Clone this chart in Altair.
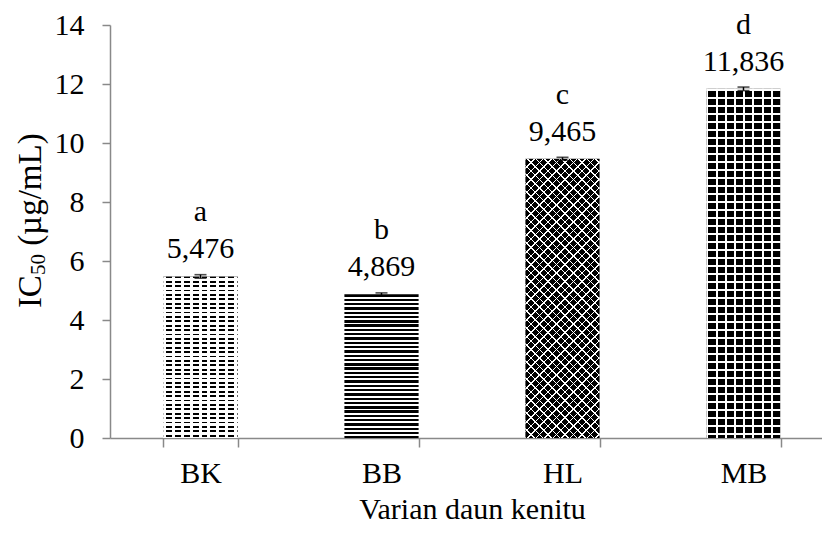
import math
import altair as alt
import pandas as pd

# IC50 of kenitu leaf varieties (mean ± SD) with Duncan letters
categories = ["BK", "BB", "HL", "MB"]
ic50_values = [5.476, 4.869, 9.465, 11.836]
ic50_sd = [0.06, 0.05, 0.05, 0.06]
sig_letters = ["a", "b", "c", "d"]
y_ticks = [0, 2, 4, 6, 8, 10, 12, 14]
x_title = "Varian daun kenitu"
y_title_parts = ["IC", "50", "(µg/mL)"]

FONT = "Liberation Serif"
FS = 30
TITLE_FS = 33
SUB_FS = 21
AXIS_GREY = "#898989"

PLOT_W, PLOT_H = 712, 413
RANGE_W = 724          # band range runs a little past the right edge
Y_MAX = 14
PAD_INNER, PAD_OUTER = 0.59, 0.295

step = RANGE_W / (len(categories) - PAD_INNER + 2 * PAD_OUTER)
BAR_W = step * (1 - PAD_INNER)
CLEAR = "rgba(255,255,255,0)"


def bar_height_px(v):
    return v / Y_MAX * PLOT_H


def band_stops(length, period, ink, ink_color, gap_color, tmax=1.0):
    """Hard-edged alternating gradient stops across `length` pixels."""
    stops = []
    pos = 0.0
    while pos < length:
        for lo, hi, col in ((pos, pos + ink, ink_color), (pos + ink, pos + period, gap_color)):
            lo_c, hi_c = max(lo, 0.0), min(hi, length)
            if hi_c > lo_c:
                stops.append({"offset": round(lo_c / length * tmax, 5), "color": col})
                stops.append({"offset": round(hi_c / length * tmax, 5), "color": col})
        pos += period
    return stops


def rows(h, period, ink, ink_color, gap_color=CLEAR):
    return {"gradient": "linear", "x1": 0, "y1": 0, "x2": 0, "y2": 1,
            "stops": band_stops(h, period, ink, ink_color, gap_color)}


def cols(w, period, ink, ink_color, gap_color=CLEAR):
    return {"gradient": "linear", "x1": 0, "y1": 0, "x2": 1, "y2": 0,
            "stops": band_stops(w, period, ink, ink_color, gap_color)}


def diagonal(w, h, spacing, ink, ink_color, gap_color=CLEAR, flip=False):
    r = h / w
    tmax = (w + h) * w / (w * w + h * h)
    g = {"gradient": "linear"}
    if flip:
        g.update(x1=0, y1=1, x2=1, y2=round(1 - r, 5))
    else:
        g.update(x1=0, y1=0, x2=1, y2=round(r, 5))
    g["stops"] = band_stops(w + h, spacing, ink * math.sqrt(2), ink_color, gap_color, tmax)
    return g


df = pd.DataFrame({
    "cat": categories,
    "value": ic50_values,
    "lo": [v - e for v, e in zip(ic50_values, ic50_sd)],
    "hi": [v + e for v, e in zip(ic50_values, ic50_sd)],
    "letter": sig_letters,
    "label": [f"{v:.3f}".replace(".", ",") for v in ic50_values],
})

x_enc = alt.X(
    "cat:N", sort=categories,
    scale=alt.Scale(domain=categories, range=[0, RANGE_W],
                    paddingInner=PAD_INNER, paddingOuter=PAD_OUTER),
    axis=alt.Axis(title=x_title, titleFont=FONT, titleFontSize=FS, titleFontWeight="normal",
                  titleColor="black", titlePadding=6,
                  labelFont=FONT, labelFontSize=FS, labelColor="black", labelAngle=0,
                  labelPadding=11, tickBand="extent", tickSize=9, tickColor=AXIS_GREY,
                  tickWidth=1.5, domainColor=AXIS_GREY, domainWidth=1.5, grid=False),
)
y_axis = alt.Axis(values=y_ticks, title=None, labelFont=FONT, labelFontSize=FS,
                  labelColor="black", labelPadding=18, tickSize=8, tickColor=AXIS_GREY,
                  tickWidth=1.5, domainColor=AXIS_GREY, domainWidth=1.5, grid=False)
y_scale = alt.Scale(domain=[0, Y_MAX], nice=False)


def y_enc(field):
    return alt.Y(f"{field}:Q", scale=y_scale, axis=y_axis)


base = alt.Chart(df)

# plain bar bodies
body_colors = {"BK": "white", "BB": "white", "HL": "black", "MB": "black"}
layers = [
    base.mark_bar().encode(
        x=x_enc, y=y_enc("value"),
        fill=alt.Fill("cat:N", scale=alt.Scale(domain=categories,
                                               range=[body_colors[c] for c in categories]),
                      legend=None),
    )
]

# texture overlays, built per bar from its own height
for cat, val in zip(categories, ic50_values):
    h = bar_height_px(val)
    if cat == "BK":
        fills = [rows(h, 4.4, 1.7, "black"), cols(BAR_W, 8.8, 3.0, "white")]
    elif cat == "BB":
        fills = [rows(h, 4.3, 2.4, "black")]
    elif cat == "HL":
        fills = [diagonal(BAR_W, h, 8.5, 1.1, "white"),
                 diagonal(BAR_W, h, 8.5, 1.1, "white", flip=True)]
    else:
        fills = [rows(h, 8.0, 2.0, "white"), cols(BAR_W, 9.2, 2.0, "white")]
    for f in fills:
        layers.append(
            base.transform_filter(alt.datum.cat == cat)
            .mark_bar(fill=f)
            .encode(x=x_enc, y=y_enc("value"))
        )

# error bars
layers.append(base.mark_rule(color="black", strokeWidth=1.5).encode(
    x=x_enc, y=y_enc("lo"), y2="hi:Q"))
for fld in ("lo", "hi"):
    layers.append(base.mark_tick(color="black", thickness=1.6, size=12).encode(
        x=x_enc, y=y_enc(fld)))

# value and letter labels
layers.append(base.mark_text(font=FONT, fontSize=FS, color="black", dy=-18,
                             baseline="alphabetic").encode(
    x=x_enc, y=y_enc("value"), text="label:N"))
layers.append(base.mark_text(font=FONT, fontSize=FS, color="black", dy=-55,
                             baseline="alphabetic").encode(
    x=x_enc, y=y_enc("value"), text="letter:N"))

# rotated y title with a subscript
ic_w = 1.0 * TITLE_FS
sub_w = 1.0 * SUB_FS
space_w = 0.25 * TITLE_FS
rest_w = 3.333 * TITLE_FS
total = ic_w + sub_w + space_w + rest_w
title_base_x = -69
title_start_y = 197 + total / 2
title_df = pd.DataFrame({
    "part": y_title_parts,
    "px": [title_base_x, title_base_x + 4, title_base_x],
    "py": [title_start_y, title_start_y - ic_w, title_start_y - ic_w - sub_w - space_w],
    "size": [TITLE_FS, SUB_FS, TITLE_FS],
})
for i in range(len(y_title_parts)):
    row = title_df.iloc[i]
    layers.append(
        alt.Chart(title_df.iloc[[i]]).mark_text(
            font=FONT, fontSize=float(row["size"]), color="black", angle=270,
            align="left", baseline="alphabetic",
        ).encode(x=alt.value(float(row["px"])), y=alt.value(float(row["py"])), text="part:N")
    )

chart = alt.layer(*layers).properties(
    width=PLOT_W, height=PLOT_H,
    autosize=alt.AutoSizeParams(type="none"),
    padding={"left": 110, "top": 25, "right": 0, "bottom": 95},
    background="white",
).configure_view(stroke=None)

chart.save("out.html", embed_options={"renderer": "svg", "actions": False})
